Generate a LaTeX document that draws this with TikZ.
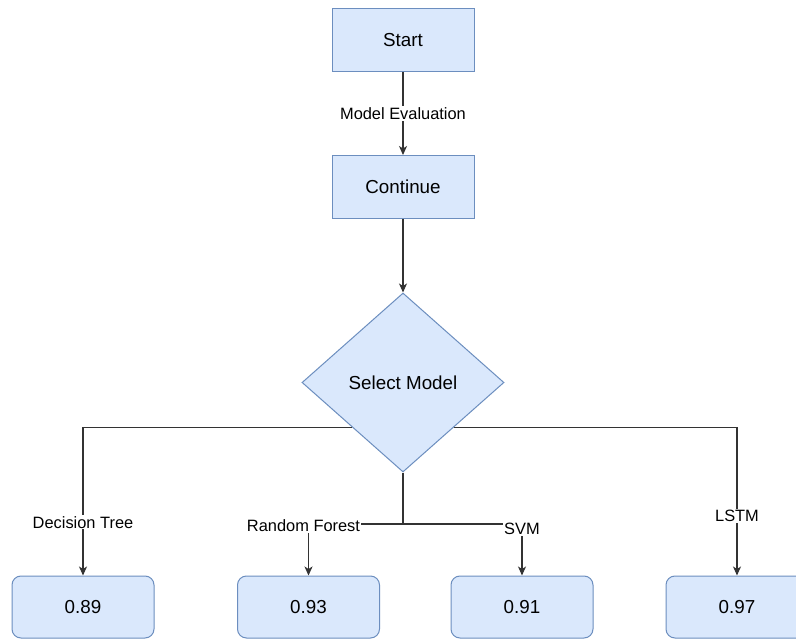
\documentclass[tikz,border=0pt]{standalone}
\usepackage{fontspec}
\setmainfont{Liberation Sans}
\usetikzlibrary{shapes.geometric,arrows.meta}
\definecolor{boxfill}{HTML}{DAE8FC}
\definecolor{boxdraw}{HTML}{6C8EBF}
\definecolor{edgecol}{HTML}{333333}
\tikzset{
  box/.style={draw=boxdraw, fill=boxfill, line width=1pt, minimum width=142pt, minimum height=63pt, inner sep=0pt, font=\fontsize{18.8}{21}\selectfont},
  rbox/.style={box, rounded corners=9pt, minimum height=62pt},
  decision/.style={diamond, draw=boxdraw, fill=boxfill, line width=1pt, minimum width=202pt, minimum height=179pt, aspect=1.13, inner sep=0pt, font=\fontsize{18.8}{21}\selectfont},
  conn/.style={draw=edgecol, line width=1.2pt},
  arr/.style={conn, -{Stealth[length=9pt,width=8pt,inset=2.5pt]}},
  lbl/.style={fill=white, inner sep=1pt, text=black, font=\fontsize{16.4}{18}\selectfont}
}
\begin{document}
\begin{tikzpicture}[x=1pt,y=-1pt]
\useasboundingbox (0,0) rectangle (796,639);
\clip (0,0) rectangle (796,639);
\fill[white] (0,0) rectangle (796,639);

\node[box] (start) at (403,40) {Start};
\node[box] (cont) at (403,187) {Continue};
\node[decision] (sel) at (403,382.5) {Select Model};
\node[rbox] (dt) at (83,607) {0.89};
\node[rbox] (rf) at (308.5,607) {0.93};
\node[rbox] (svm) at (522,607) {0.91};
\node[rbox] (lstm) at (737,607) {0.97};
\coordinate (j) at (403,524);

\draw[arr] (start) -- node[lbl]{Model Evaluation} (cont);
\draw[arr] (cont) -- (sel);
\draw[arr] (sel.south west) -| node[lbl,pos=0.82]{Decision Tree} (dt.north);
\draw[arr] (sel.south east) -| node[lbl,pos=0.8]{LSTM} (lstm.north);
\draw[conn] (sel.south) -- (j);
\draw[arr] (j) -| node[lbl,pos=0.5,xshift=-5pt,yshift=-2pt]{Random Forest} (rf.north);
\draw[arr] (j) -| node[lbl,pos=0.5,yshift=-5pt]{SVM} (svm.north);
\end{tikzpicture}
\end{document}
